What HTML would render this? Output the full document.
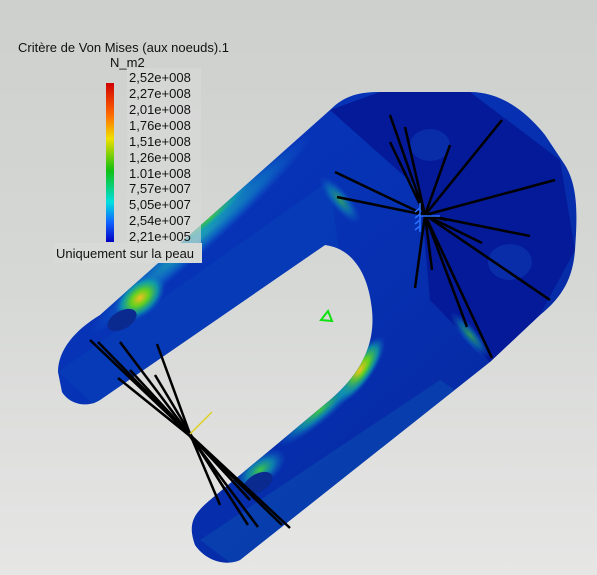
<!DOCTYPE html>
<html><head><meta charset="utf-8"><style>
html,body{margin:0;padding:0;width:597px;height:575px;overflow:hidden;font-family:"Liberation Sans",sans-serif;}
#bg{position:absolute;left:0;top:0;width:597px;height:575px;background:linear-gradient(#cdd0cd,#d6d8d6 50%,#e6e6e5);}
svg{position:absolute;left:0;top:0}
.t{font-size:13px;fill:#111}
</style></head><body>
<div id="bg"></div>
<svg width="597" height="575">
<defs>
<linearGradient id="cb" x1="0" y1="0" x2="0" y2="1">
<stop offset="0" stop-color="#d00000"/><stop offset="0.2" stop-color="#ff6a00"/><stop offset="0.35" stop-color="#f0e000"/><stop offset="0.55" stop-color="#10c010"/><stop offset="0.75" stop-color="#00e0e0"/><stop offset="0.88" stop-color="#1060ff"/><stop offset="1" stop-color="#0000c0"/></linearGradient>
<linearGradient id="body" x1="0" y1="0" x2="1" y2="1">
<stop offset="0" stop-color="#0838c0"/><stop offset="0.5" stop-color="#0630b0"/><stop offset="1" stop-color="#05249a"/></linearGradient>
<radialGradient id="hot"><stop offset="0" stop-color="#f0c020"/><stop offset="0.35" stop-color="#60d020"/><stop offset="0.7" stop-color="#10b0a0" stop-opacity="0.7"/><stop offset="1" stop-color="#1060d0" stop-opacity="0"/></radialGradient>
<radialGradient id="warm"><stop offset="0" stop-color="#40c840"/><stop offset="0.5" stop-color="#10a0b0" stop-opacity="0.7"/><stop offset="1" stop-color="#1060d0" stop-opacity="0"/></radialGradient>
<radialGradient id="cyan"><stop offset="0" stop-color="#20b0b0"/><stop offset="0.6" stop-color="#1080c8" stop-opacity="0.6"/><stop offset="1" stop-color="#1060d0" stop-opacity="0"/></radialGradient>
<clipPath id="pc"><path id="pp" d="M58 372 C58 350 75 330 100 315 L330 110 C345 95 360 92 380 92 L470 92 C500 92 525 110 545 135 L565 165 C577 185 578 210 575 250 C573 275 565 295 540 315 L490 362 L240 560 C225 567 205 560 195 545 C188 525 192 515 210 500 L330 400 C365 370 375 340 372 310 C368 270 350 248 325 245 L100 400 C88 408 70 405 62 392 Z"/></clipPath>
</defs>
<g>
<use href="#pp" fill="url(#body)"/>
<g clip-path="url(#pc)">
<path d="M330 110 L380 92 L470 92 L560 160 L575 250 L540 315 L490 362 L430 300 L420 190 Z" fill="#041a98"/>
<path d="M58 372 L330 180 L340 260 L100 410 Z" fill="#0640b8" opacity="0.6"/>
<path d="M200 540 L440 380 L470 400 L240 570 Z" fill="#0a49b0" opacity="0.6"/>
<ellipse cx="200" cy="235" rx="150" ry="16" transform="rotate(-42 200 235)" fill="url(#cyan)"/>
<ellipse cx="210" cy="218" rx="70" ry="9" transform="rotate(-42 210 218)" fill="url(#warm)"/>
<ellipse cx="140" cy="298" rx="30" ry="18" transform="rotate(-40 140 298)" fill="url(#hot)"/>
<ellipse cx="360" cy="370" rx="40" ry="13" transform="rotate(-55 360 370)" fill="url(#hot)"/>
<ellipse cx="320" cy="410" rx="55" ry="12" transform="rotate(-40 320 410)" fill="url(#warm)"/>
<ellipse cx="260" cy="470" rx="30" ry="15" transform="rotate(-35 260 470)" fill="url(#warm)"/>
<ellipse cx="340" cy="200" rx="30" ry="10" transform="rotate(50 340 200)" fill="url(#warm)" opacity="0.7"/>
<ellipse cx="470" cy="335" rx="30" ry="8" transform="rotate(50 470 335)" fill="url(#warm)" opacity="0.7"/>
<ellipse cx="122" cy="320" rx="16" ry="9" transform="rotate(-30 122 320)" fill="#0a2a90"/>
<ellipse cx="258" cy="483" rx="16" ry="9" transform="rotate(-30 258 483)" fill="#0a2a90"/>
<ellipse cx="430" cy="145" rx="20" ry="16" fill="#0c34b0" opacity="0.7"/>
<ellipse cx="510" cy="262" rx="22" ry="18" fill="#0c34b0" opacity="0.7"/>
</g>
</g>
<g stroke="#000" stroke-width="2.5">
<line x1="425" y1="215" x2="390" y2="115"/><line x1="425" y1="215" x2="405" y2="127"/><line x1="425" y1="215" x2="390" y2="142"/><line x1="425" y1="215" x2="450" y2="145"/><line x1="425" y1="215" x2="502" y2="120"/><line x1="425" y1="215" x2="555" y2="180"/><line x1="425" y1="215" x2="530" y2="236"/><line x1="425" y1="215" x2="550" y2="300"/><line x1="425" y1="215" x2="335" y2="172"/><line x1="425" y1="215" x2="337" y2="197"/><line x1="425" y1="215" x2="415" y2="288"/><line x1="425" y1="215" x2="432" y2="270"/><line x1="425" y1="215" x2="467" y2="327"/><line x1="425" y1="215" x2="492" y2="358"/><line x1="425" y1="215" x2="482" y2="243"/><line x1="425" y1="215" x2="447" y2="220"/>
</g>
<g stroke="#2a70ff" stroke-width="1.5">
<line x1="420" y1="203" x2="420" y2="232"/><line x1="420" y1="216" x2="440" y2="216"/>
<line x1="420" y1="208" x2="415" y2="212"/><line x1="420" y1="214" x2="415" y2="218"/><line x1="420" y1="220" x2="415" y2="224"/><line x1="420" y1="226" x2="415" y2="230"/>
</g>
<g stroke="#000" stroke-width="2.5" fill="none">
<polyline points="90,340 189,434 290,528"/><polyline points="98,342 189,435 258,527"/><polyline points="120,342 190,435 248,525"/><polyline points="118,378 190,436 282,525"/><polyline points="157,344 190,434 220,505"/><polyline points="155,375 191,435 225,490"/><polyline points="130,370 190,435 250,500"/>
</g>
<line x1="190" y1="434" x2="212" y2="412" stroke="#e0d020" stroke-width="1.5"/>
<path d="M321 320 L328 311 L332 321 Z" fill="none" stroke="#10e010" stroke-width="2"/>
<g>
<text class="t" x="18" y="52">Critère de Von Mises (aux noeuds).1</text>
<text class="t" x="110" y="67">N_m2</text>
<rect x="106" y="83" width="8" height="159" fill="url(#cb)"/>
<rect x="127" y="68" width="74" height="178" fill="#d8dad8" opacity="0.6"/>
<g class="t">
<text class="t" x="129" y="82">2,52e+008</text><text class="t" x="129" y="98">2,27e+008</text><text class="t" x="129" y="114">2,01e+008</text><text class="t" x="129" y="130">1,76e+008</text><text class="t" x="129" y="146">1,51e+008</text><text class="t" x="129" y="162">1,26e+008</text><text class="t" x="129" y="178">1.01e+008</text><text class="t" x="129" y="193">7,57e+007</text><text class="t" x="129" y="209">5,05e+007</text><text class="t" x="129" y="225">2,54e+007</text><text class="t" x="129" y="241">2,21e+005</text>
</g>
<rect x="54" y="243" width="148" height="20" fill="#d8dad8"/>
<text class="t" x="56" y="258">Uniquement sur la peau</text>
</g>
</svg>
</body></html>
